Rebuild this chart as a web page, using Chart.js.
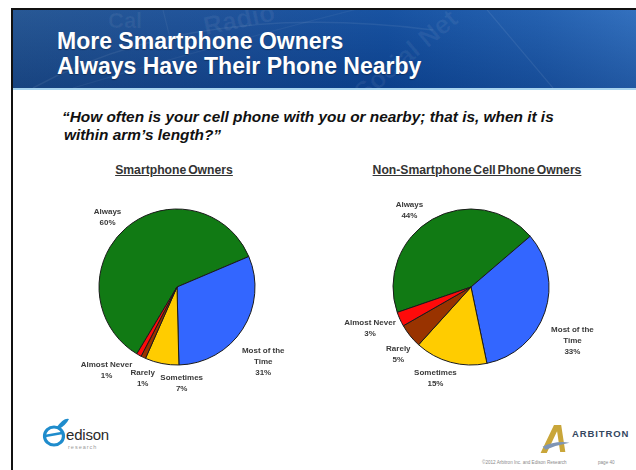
<!DOCTYPE html>
<html>
<head>
<meta charset="utf-8">
<script src="https://cdn.jsdelivr.net/npm/chart.js@4/dist/chart.umd.min.js"></script>
<style>
  html, body { margin: 0; padding: 0; background: #fff; }
  body { width: 636px; height: 470px; position: relative; overflow: hidden; font-family: "Liberation Sans", Arial, sans-serif; }
  .slide { position: absolute; left: 11px; top: 8px; width: 640px; height: 470px; border-left: 2px solid #111; border-top: 2px solid #111; background: #fff; }
  .header { position: absolute; left: 13px; top: 10px; width: 623px; height: 78px; overflow: hidden;
    background: linear-gradient(to right, #1f5190 0%, #174d98 35%, #0f4c9e 60%, #1d5cae 85%, #2b6bbc 100%); }
  .header::after { content: ""; position: absolute; inset: 0; background: linear-gradient(to bottom, rgba(255,255,255,0.04), rgba(0,20,70,0.22)); }
  .rule { position: absolute; left: 13px; top: 88px; width: 623px; height: 2px; background: #a8d4ef; }
  .wm { position: absolute; color: rgba(255,255,255,0.06); font-weight: bold; white-space: nowrap; z-index: 1; }
  .title { position: absolute; left: 57px; top: 29px; color: #fff; font-weight: bold; font-size: 23px; line-height: 25px; z-index: 2; text-shadow: 0 1px 1px rgba(0,0,0,0.35); white-space: nowrap; }
  .question { position: absolute; left: 62px; top: 108px; color: #111; font-weight: bold; font-style: italic; font-size: 15.4px; line-height: 18px; white-space: nowrap; }
  .sub { position: absolute; top: 163px; color: #333; font-weight: bold; font-size: 12.2px; line-height: 14px; text-decoration: underline; white-space: nowrap; transform: translateX(-50%); word-spacing: -1.5px; }
  canvas { position: absolute; }
  .foot { position: absolute; white-space: nowrap; }
</style>
</head>
<body>
<div class="slide"></div>
<div class="header">
  <svg width="623" height="78" style="position:absolute;left:0;top:0;z-index:1">
    <path d="M20 78 Q 180 -10 420 20" stroke="rgba(255,255,255,0.07)" stroke-width="1.5" fill="none"/>
    <path d="M60 78 Q 220 30 360 -5" stroke="rgba(255,255,255,0.05)" stroke-width="1.2" fill="none"/>
    <path d="M470 -5 L 540 78" stroke="rgba(255,255,255,0.08)" stroke-width="1.2" fill="none"/>
    <path d="M150 0 L 160 40" stroke="rgba(255,255,255,0.06)" stroke-width="1.2" fill="none"/>
  </svg>
  <div class="wm" style="left:190px;top:-6px;font-size:26px;transform:rotate(-12deg)">Radio</div>
  <div class="wm" style="left:95px;top:-2px;font-size:22px;">Cal</div>
  <div class="wm" style="left:330px;top:30px;font-size:26px;transform:rotate(-40deg)">Social Net</div>
</div>
<div class="rule"></div>
<div class="title">More Smartphone Owners<br>Always Have Their Phone Nearby</div>
<div class="question">“How often is your cell phone with you or nearby; that is, when it is<br><span style="padding-left:2px">within arm’s length?”</span></div>
<div class="sub" style="left:174px">Smartphone Owners</div>
<div class="sub" style="left:477px">Non-Smartphone Cell Phone Owners</div>

<canvas id="pieSmart" width="260" height="210" style="left:40px;top:190px;width:260px;height:210px"></canvas>
<canvas id="pieOther" width="300" height="210" style="left:330px;top:190px;width:300px;height:210px"></canvas>

<!-- footer logos -->
<svg class="foot" style="left:42px;top:415px" width="30" height="36" viewBox="0 0 30 36">
  <ellipse cx="12" cy="21" rx="9.5" ry="9" fill="none" stroke="#1f8ccc" stroke-width="3.2"/>
  <path d="M3 21 L 20 18" stroke="#1f8ccc" stroke-width="2.6"/>
  <path d="M14 13 Q 22 2 27 4 Q 24 10 17 14" fill="#1f8ccc"/>
</svg>
<div class="foot" style="left:66px;top:426px;font-size:15px;color:#2a2a2a;letter-spacing:-0.2px">edison</div>
<div class="foot" style="left:68px;top:444px;font-size:5.5px;color:#9a9a9a;letter-spacing:1px">research</div>
<svg class="foot" style="left:538px;top:422px" width="34" height="33" viewBox="0 0 32 32">
  <path d="M2 30 L 15 3 L 22 3 L 26 29 L 21 29 L 18 9 L 8 30 Z" fill="#c9a63a"/>
  <path d="M4 24 Q 16 18 30 20 Q 18 22 7 27 Z" fill="#7f95b4"/>
</svg>
<div class="foot" style="left:572px;top:428px;font-size:9.5px;font-weight:bold;color:#34475f;letter-spacing:0.9px">ARBITRON</div>
<div class="foot" style="left:482px;top:460px;font-size:4.6px;color:#8a8a8a">©2012 Arbitron Inc. and Edison Research</div>
<div class="foot" style="left:598px;top:460px;font-size:4.6px;color:#8a8a8a">page 40</div>

<script>
// Survey answers, clockwise from "Always"
const categories = ['Always', 'Most of the Time', 'Sometimes', 'Rarely', 'Almost Never'];
const smartphoneOwners = [60, 31, 7, 1, 1];
const nonSmartphoneOwners = [44, 33, 15, 5, 3];
const sliceColors = ['#117a14', '#3366ff', '#ffcc00', '#993300', '#ff0a0a'];

// Outside labels: angle nudge (deg) from slice middle and distance in radii
const smartLabelPlace = [[-4, 1.26], [8, 1.46], [-14, 1.23], [-5, 1.25], [11, 1.40]];
const otherLabelPlace = [[-9, 1.26], [9, 1.47], [6, 1.26], [-4, 1.27], [2, 1.40]];

function wrap(ctx, text, maxW) {
  const words = text.split(' ');
  const lines = [];
  let cur = '';
  for (const w of words) {
    const t = cur ? cur + ' ' + w : w;
    if (cur && ctx.measureText(t).width > maxW) { lines.push(cur); cur = w; } else cur = t;
  }
  if (cur) lines.push(cur);
  return lines;
}

const sliceLabels = {
  id: 'sliceLabels',
  afterDatasetsDraw(chart, args, opts) {
    const ctx = chart.ctx;
    const meta = chart.getDatasetMeta(0);
    const data = chart.data.datasets[0].data;
    ctx.save();
    ctx.font = 'bold 8px "Liberation Sans", Arial, sans-serif';
    ctx.fillStyle = '#3a3a3a';
    ctx.textAlign = 'center';
    ctx.textBaseline = 'middle';
    meta.data.forEach((arc, i) => {
      const p = arc.getProps(['x', 'y', 'startAngle', 'endAngle', 'outerRadius'], true);
      const [nudge, dist] = opts.place[i];
      const a = (p.startAngle + p.endAngle) / 2 + nudge * Math.PI / 180;
      const cx = p.x + Math.cos(a) * p.outerRadius * dist;
      const cy = p.y + Math.sin(a) * p.outerRadius * dist;
      const lines = wrap(ctx, chart.data.labels[i], 55).concat([data[i] + '%']);
      const lh = 11;
      lines.forEach((ln, k) => {
        ctx.fillText(ln, cx, cy + (k - (lines.length - 1) / 2) * lh);
      });
    });
    ctx.restore();
  }
};

// layout padding that puts a pie of radius r at (cx, cy) inside a w x h canvas
function padFor(w, h, cx, cy, r, border) {
  const side = 2 * r + border;
  const left = cx - side / 2, top = cy - side / 2;
  return { left: left, top: top, right: w - left - side, bottom: h - top - side };
}

function makePie(id, values, rotation, place, w, h, cx, cy, r) {
  new Chart(document.getElementById(id), {
    type: 'pie',
    data: {
      labels: categories,
      datasets: [{
        data: values,
        backgroundColor: sliceColors,
        borderColor: '#1a1a1a',
        borderWidth: 1,
        hoverBorderWidth: 1,
        hoverOffset: 0,
        offset: 0
      }]
    },
    options: {
      responsive: false,
      animation: false,
      events: [],
      rotation: rotation,
      layout: { padding: padFor(w, h, cx, cy, r, 1) },
      plugins: {
        legend: { display: false },
        tooltip: { enabled: false },
        sliceLabels: { place: place }
      }
    },
    plugins: [sliceLabels]
  });
}

makePie('pieSmart', smartphoneOwners, -149, smartLabelPlace, 260, 210, 137, 97, 78);
makePie('pieOther', nonSmartphoneOwners, -109, otherLabelPlace, 300, 210, 141, 97, 78);
</script>
</body>
</html>
